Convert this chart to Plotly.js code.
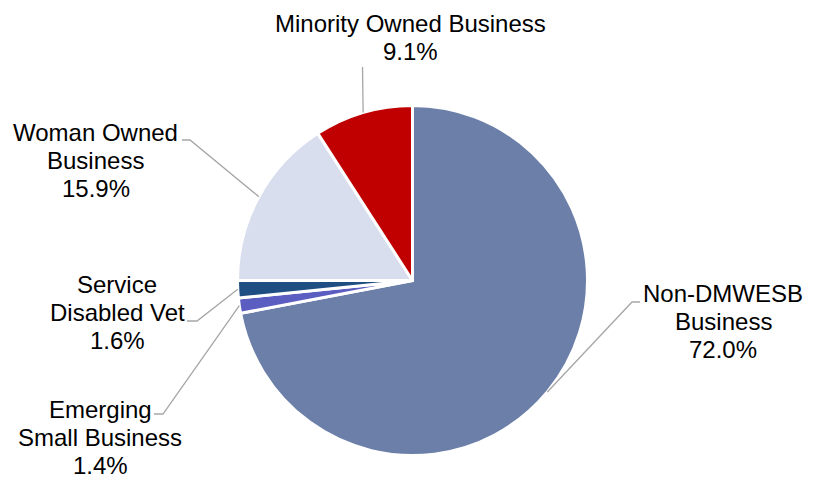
<!DOCTYPE html>
<html>
<head>
<meta charset="utf-8">
<script src="https://cdn.plot.ly/plotly-3.0.1.min.js"></script>
<style>html,body{margin:0;padding:0;background:#fff;}#chart{width:822px;height:479px;}</style>
</head>
<body>
<div id="chart"></div>
<script>
// Data (clockwise from 12 o'clock)
const categories = ["Non-DMWESB Business", "Emerging Small Business", "Service Disabled Vet", "Woman Owned Business", "Minority Owned Business"];
const labelLines = [["Non-DMWESB", "Business"], ["Emerging", "Small Business"], ["Service", "Disabled Vet"], ["Woman Owned", "Business"], ["Minority Owned Business"]];
const values = [72.0, 1.4, 1.6, 15.9, 9.1];
const sliceColors = ["#6B7FA9", "#5B5EC0", "#1F4E82", "#D9DEEF", "#C00000"];

// Layout geometry (pixels)
const W = 822, H = 479;
const cx = 412.5, cy = 280.5, R = 175;
const px = x => x / W;
const py = y => 1 - y / H;
const LINE = 28.2;

// label centre x and first-line y, elbow points for leader lines (pixels)
const labelPos = [[723, 293.5], [100, 409], [117, 284.5], [95.5, 132.5], [410, 23.3]];
const elbows = [[[632, 302], [640, 302]], [[163, 414], [154, 414]], [[197, 321], [187, 321]], [[190, 140], [182, 140]], [[362.5, 67], [362.5, 67]]];

const total = values.reduce((a, b) => a + b, 0);
let cum = 0;
const annotations = [], shapes = [];
values.forEach((v, i) => {
  const mid = (cum + v / 2) / total * 2 * Math.PI;
  cum += v;
  const ex = cx + R * Math.sin(mid), ey = cy - R * Math.cos(mid);
  const e = elbows[i];
  shapes.push({
    type: 'path', xref: 'paper', yref: 'paper',
    path: `M ${px(ex)} ${py(ey)} L ${px(e[0][0])} ${py(e[0][1])} L ${px(e[1][0])} ${py(e[1][1])}`,
    line: {color: '#A6A6A6', width: 1.3}
  });
  const lines = labelLines[i].concat([v.toFixed(1) + '%']);
  lines.forEach((t, k) => {
    annotations.push({
      xref: 'paper', yref: 'paper', x: px(labelPos[i][0]), y: py(labelPos[i][1] + k * LINE),
      xanchor: 'center', yanchor: 'middle', showarrow: false, align: 'center',
      text: t,
      font: {family: 'Liberation Sans, Arial, sans-serif', size: 24, color: '#000'}
    });
  });
});

const trace = {
  type: 'pie', values: values, labels: categories, sort: false,
  direction: 'clockwise', rotation: 0,
  marker: {colors: sliceColors, line: {color: '#ffffff', width: 3}},
  textinfo: 'none', hoverinfo: 'label+percent', showlegend: false,
  domain: {x: [px(cx - R), px(cx + R)], y: [py(cy + R), py(cy - R)]}
};

Plotly.newPlot('chart', [trace], {
  width: W, height: H, margin: {l: 0, r: 0, t: 0, b: 0},
  paper_bgcolor: '#fff', plot_bgcolor: '#fff',
  showlegend: false, annotations: annotations, shapes: shapes
}, {displayModeBar: false, staticPlot: true});
</script>
</body>
</html>
